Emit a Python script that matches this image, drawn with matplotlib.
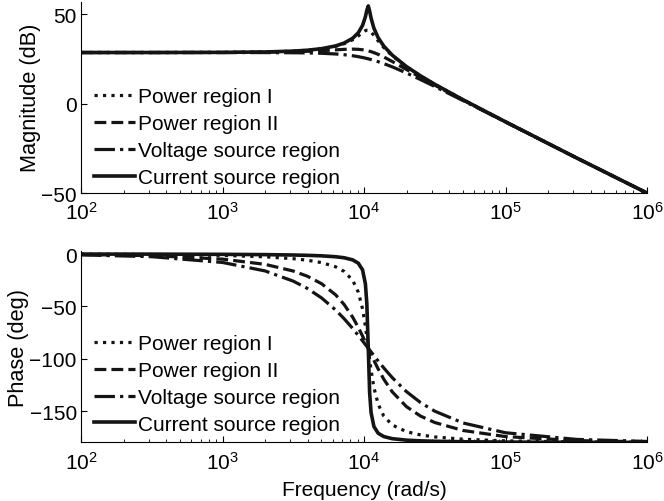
import numpy as np
import matplotlib
matplotlib.use("Agg")
import matplotlib.pyplot as plt

plt.rcParams['font.family'] = ['Liberation Sans', 'DejaVu Sans']
plt.rcParams['mathtext.fontset'] = 'custom'
plt.rcParams['mathtext.rm'] = 'Liberation Sans'
plt.rcParams['mathtext.default'] = 'regular'

# frequencies (rad/s)
freq = [100, 316, 1000, 2000, 3160, 3980, 5010, 6310, 7240, 8320, 9120,
        9770, 10230, 10470, 10720, 10960, 11220, 11750, 12590, 13800,
        15850, 19950, 25120, 31620, 50120, 100000, 316200, 1000000]

labels = ["Power region I", "Power region II",
          "Voltage source region", "Current source region"]

# magnitude (dB)
mag_p1 = [28.5, 28.5, 28.57, 28.80, 29.27, 29.74, 30.56, 32.00, 33.43, 35.65, 37.79,
          39.68, 40.70, 40.94, 40.90, 40.54, 39.90, 38.08, 34.99, 31.25,
          26.63, 20.52, 15.38, 10.72, 2.09, -10.20, -30.29, -50.0]
mag_p2 = [28.5, 28.5, 28.54, 28.68, 28.94, 29.18, 29.54, 30.00, 30.27, 30.40, 30.29,
          30.04, 29.77, 29.60, 29.42, 29.20, 28.97, 28.44, 27.49, 26.00,
          23.47, 19.01, 14.58, 10.27, 1.93, -10.24, -30.29, -50.0]
mag_vs = [28.5, 28.5, 28.49, 28.46, 28.37, 28.27, 28.08, 27.68, 27.28, 26.70, 26.18,
          25.71, 25.36, 25.17, 24.98, 24.77, 24.56, 24.11, 23.38, 22.30,
          20.48, 17.07, 13.37, 9.52, 1.64, -10.31, -30.30, -50.0]
mag_cs = [28.5, 28.51, 28.58, 28.81, 29.29, 29.79, 30.64, 32.19, 33.79, 36.47, 39.59,
          43.67, 48.49, 52.05, 54.52, 51.65, 47.69, 42.07, 36.79, 32.07,
          26.99, 20.65, 15.44, 10.76, 2.11, -10.20, -30.29, -50.0]

# phase (deg)
ph_p1 = [-0.13, -0.41, -1.29, -2.65, -4.44, -5.91, -8.18, -12.21, -16.64, -25.11, -36.54,
         -52.45, -69.00, -79.14, -90.0, -100.86, -111.0, -127.55, -143.45, -154.89,
         -163.36, -169.73, -172.87, -174.75, -176.92, -178.51, -179.53, -179.85]
ph_p2 = [-0.48, -1.52, -4.84, -9.85, -16.22, -21.20, -28.32, -39.05, -48.26, -60.37, -70.21,
         -78.42, -84.15, -87.07, -90.0, -92.93, -95.85, -101.58, -109.78, -119.63,
         -131.74, -145.82, -154.86, -160.99, -168.60, -174.43, -178.25, -179.45]
ph_vs = [-0.80, -2.54, -8.04, -16.14, -25.87, -32.88, -41.92, -53.51, -61.84, -71.15, -77.82,
         -82.99, -86.48, -88.24, -90.0, -91.76, -93.52, -97.01, -102.18, -108.85,
         -118.16, -131.45, -141.97, -150.14, -161.43, -170.76, -177.09, -179.08]
ph_cs = [-0.03, -0.09, -0.27, -0.55, -0.93, -1.23, -1.71, -2.58, -3.56, -5.58, -8.78,
         -15.16, -28.49, -47.35, -90.0, -132.65, -151.51, -164.83, -171.22, -174.42,
         -176.44, -177.84, -178.51, -178.90, -179.36, -179.69, -179.90, -179.97]

styles = [dict(ls=':', lw=2.3), dict(ls='--', lw=2.3),
          dict(ls='-.', lw=2.3), dict(ls='-', lw=2.6)]

fig = plt.figure(figsize=(6.64, 5.02), dpi=100)
ax1 = fig.add_axes([0.122, 0.6135, 0.8524, 0.3815])
ax2 = fig.add_axes([0.122, 0.1167, 0.8524, 0.3815])

panels = [(ax1, [mag_p1, mag_p2, mag_vs, mag_cs], "Magnitude (dB)", -0.035),
          (ax2, [ph_p1, ph_p2, ph_vs, ph_cs], "Phase (deg)", -0.02)]

for ax, series, ylab, leg_y in panels:
    for y, st, lab in zip(series, styles, labels):
        ax.semilogx(freq, y, color='#141414', label=lab, **st)
    ax.set_xlim(1e2, 1e6)
    ax.spines['top'].set_visible(False)
    ax.spines['right'].set_visible(False)
    ax.tick_params(which='both', direction='in', labelsize=15)
    ax.tick_params(axis='x', which='major', length=4, pad=6)
    ax.tick_params(axis='y', which='major', length=4, pad=3)
    ax.tick_params(which='minor', length=2.5)
    ax.set_ylabel(ylab, fontsize=15.7, labelpad=0)
    ax.legend(loc='lower left', bbox_to_anchor=(0.0, leg_y), frameon=False,
              fontsize=15, handlelength=2.0, handletextpad=0.15,
              labelspacing=0.38, borderpad=0.1)

ax1.set_ylim(-50, 57)
ax1.set_yticks([-50, 0, 50])
ax2.set_ylim(-180, 3)
ax2.set_yticks([-150, -100, -50, 0])
ax2.set_xlabel("Frequency (rad/s)", fontsize=15, labelpad=5)

fig.savefig("out.png", dpi=100)
